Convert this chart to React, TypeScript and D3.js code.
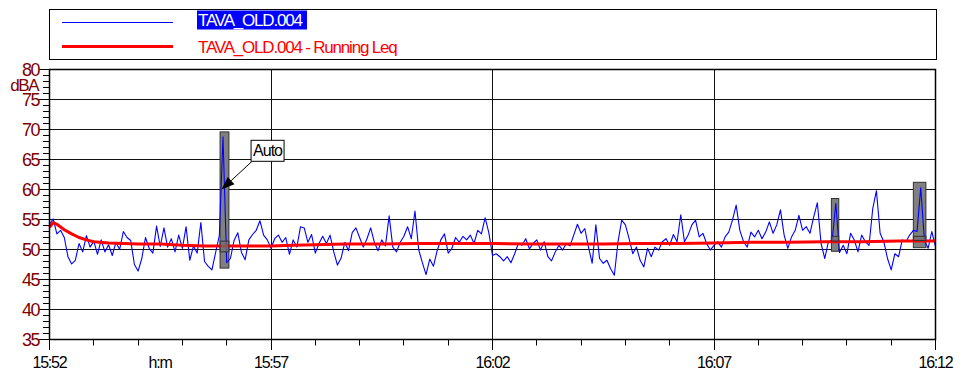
import React from "react";
import * as d3 from "d3";

// sound level samples, one every 5 s from 15:52:00
const SAMPLE_STEP = 5;
const levelValues = [
  54.2, 55.1, 52.6, 53.2, 52.0, 48.8, 47.6, 48.2, 51.0, 49.6,
  52.3, 50.4, 51.4, 49.2, 51.6, 49.6, 50.8, 49.0, 51.2, 50.0,
  53.0, 52.0, 51.5, 47.5, 46.4, 48.5, 52.0, 50.2, 49.4, 53.9,
  50.5, 53.6, 50.4, 51.8, 49.6, 52.4, 50.2, 53.8, 48.2, 50.6,
  49.4, 54.5, 48.0, 47.2, 46.6, 49.5, 52.3, 68.8, 47.8, 48.5,
  51.5, 52.8, 49.5, 48.3, 51.6, 52.5, 53.2, 54.8, 52.4, 51.6,
  50.2, 51.8, 52.4, 51.2, 52.0, 49.2, 51.6, 50.4, 53.8, 53.6,
  51.2, 52.5, 49.4, 51.0, 52.2, 51.0, 52.4, 49.6, 47.4, 48.6,
  51.2, 49.8, 52.8, 53.6, 52.0, 50.4, 51.8, 53.6, 51.2, 49.8,
  51.6, 50.6, 55.6, 50.4, 49.6, 51.2, 52.2, 53.8, 51.8, 56.4,
  50.0, 47.8, 45.8, 48.4, 47.2, 49.8, 51.6, 52.6, 49.4, 50.2,
  52.0, 51.2, 52.2, 51.6, 52.4, 51.0, 53.2, 52.6, 55.3, 52.8,
  49.0, 49.3, 48.8, 48.1, 48.8, 47.8, 49.3, 51.0, 50.7, 51.8,
  50.1, 51.0, 51.6, 49.9, 51.3, 48.8, 48.1, 49.6, 50.7, 49.9,
  51.0, 50.6, 52.4, 54.2, 52.7, 53.5, 50.4, 47.7, 54.1, 48.5,
  47.7, 48.2, 46.8, 45.7, 51.3, 54.9, 54.1, 51.8, 49.3, 50.4,
  48.2, 47.1, 50.2, 48.8, 50.4, 49.9, 51.3, 51.8, 50.7, 52.5,
  51.3, 55.8, 51.3, 52.4, 54.1, 54.9, 52.1, 52.7, 51.0, 49.9,
  50.7, 51.3, 50.4, 52.1, 52.9, 54.9, 57.4, 53.2, 51.3, 50.4,
  52.9, 52.1, 53.2, 51.8, 52.9, 54.6, 52.7, 54.1, 56.6, 52.4,
  50.2, 52.1, 53.2, 55.7, 53.2, 53.8, 52.7, 55.4, 57.8, 51.0,
  48.5, 51.3, 51.5, 57.7, 49.5, 50.7, 49.3, 52.7, 51.6, 49.6,
  52.4, 51.3, 50.7, 56.8, 59.8, 52.7, 51.3, 48.5, 46.6, 49.3,
  48.8, 51.6, 51.3, 52.4, 53.2, 53.0, 60.3, 51.5, 50.2, 53.0,
  50.5,
];

// running Leq (seconds from start, dBA)
const leqSeconds = [0, 5, 10, 20, 30, 40, 50, 60, 80, 100, 120, 150, 180, 210, 240, 270, 300, 330, 360, 400, 450, 500, 550, 600, 650, 700, 750, 800, 850, 900, 950, 1000, 1050, 1100, 1150, 1200];
const leqValues = [53.7, 54.5, 54.2, 53.3, 52.6, 52.0, 51.6, 51.3, 51.1, 51.0, 50.9, 50.9, 50.7, 50.6, 50.6, 50.6, 50.6, 50.7, 50.8, 50.9, 50.9, 51.0, 51.0, 51.0, 50.9, 50.9, 50.9, 51.0, 51.0, 51.1, 51.2, 51.2, 51.3, 51.3, 51.4, 51.4];

// marked events: start s, end s, top dB, bottom dB, inner top, inner bottom
const markStart = [231, 1059, 1170];
const markEnd = [243, 1069, 1187];
const markTop = [69.6, 58.5, 61.2];
const markBottom = [46.9, 49.7, 50.3];
const markInnerTop = [51.4, 52.2, 52.2];
const markInnerBottom = [49.6, 51.4, 51.5];

const yTicks = [35, 40, 45, 50, 55, 60, 65, 70, 75, 80];
const xMajorMinutes = [0, 5, 10, 15, 20];
const legendNames = ["TAVA_OLD.004", "TAVA_OLD.004 - Running Leq"];

const FONT = "'Liberation Sans', Arial, sans-serif";

export default function App() {
  const t0 = new Date(2000, 0, 1, 15, 52, 0);
  const t1 = new Date(2000, 0, 1, 16, 12, 0);
  const at = (s: number) => new Date(t0.getTime() + s * 1000);

  const x = d3.scaleTime().domain([t0, t1]).range([49.5, 935.5]);
  const y = d3.scaleLinear().domain([35, 80]).range([339.5, 69.5]);
  const fmt = d3.timeFormat("%H:%M");

  const majorX = xMajorMinutes.map(m => d3.timeMinute.offset(t0, m));
  const minorX = d3.range(0, 21).map(m => d3.timeMinute.offset(t0, m));
  const minorY = d3.range(35, 81, 1);

  const line = d3.line<[number, number]>()
    .x(d => x(at(d[0])))
    .y(d => y(d[1]));

  const levelPath = line(levelValues.map((v, i) => [i * SAMPLE_STEP, v]));
  const leqPath = line(leqValues.map((v, i) => [leqSeconds[i], v]));

  const px = (v: number) => Math.round(v - 0.5) + 0.5;

  // annotation "Auto"
  const tip: [number, number] = [x(at(233)), y(60)];
  const boxX = x(at(273)), boxY = y(68.2);
  const tail: [number, number] = [boxX + 1, boxY + 21];
  const ang = Math.atan2(tip[1] - tail[1], tip[0] - tail[0]);
  const ah = 13, aw = 5;
  const base = [tip[0] - ah * Math.cos(ang), tip[1] - ah * Math.sin(ang)];
  const head = [
    tip,
    [base[0] + aw * Math.sin(ang), base[1] - aw * Math.cos(ang)],
    [base[0] - aw * Math.sin(ang), base[1] + aw * Math.cos(ang)],
  ];

  return (
    <svg width={960} height={376} style={{ position: "absolute", left: 0, top: 0, background: "#fff" }} fontFamily={FONT}>
      {/* legend */}
      <rect x={49.5} y={9.5} width={887} height={50} fill="#fff" stroke="#000" />
      <line x1={62} x2={173} y1={22.5} y2={22.5} stroke="#0000ff" strokeWidth={1} />
      <rect x={197} y={10.5} width={110} height={19} fill="#0000ff" />
      <text x={198} y={26} fontSize={17} letterSpacing={-1.2} fill="#fff">{legendNames[0]}</text>
      <line x1={62} x2={173} y1={46.5} y2={46.5} stroke="#ff0000" strokeWidth={3} />
      <text x={198} y={52.5} fontSize={17} letterSpacing={-1.2} fill="#ff0000">{legendNames[1]}</text>

      {/* grid */}
      {yTicks.slice(1, -1).map(v => (
        <line key={"gy" + v} x1={49.5} x2={935.5} y1={y(v)} y2={y(v)} stroke="#111" strokeWidth={1} shapeRendering="crispEdges" />
      ))}
      {majorX.slice(1, -1).map(d => (
        <line key={"gx" + d.getTime()} x1={px(x(d))} x2={px(x(d))} y1={69.5} y2={339.5} stroke="#111" strokeWidth={1} shapeRendering="crispEdges" />
      ))}

      {/* marked events */}
      {markStart.map((s, i) => (
        <rect key={"m" + i} x={x(at(s))} y={y(markTop[i])} width={x(at(markEnd[i])) - x(at(s))} height={y(markBottom[i]) - y(markTop[i])}
          fill="#808080" stroke="#333" strokeWidth={1} />
      ))}

      <path d={levelPath || ""} fill="none" stroke="#0000ff" strokeWidth={1.1} strokeLinejoin="round" />
      <path d={leqPath || ""} fill="none" stroke="#ff0000" strokeWidth={3} strokeLinejoin="round" />

      {markStart.map((s, i) => (
        <rect key={"mi" + i} x={x(at(s))} y={y(markInnerTop[i])} width={x(at(markEnd[i])) - x(at(s))}
          height={y(markInnerBottom[i]) - y(markInnerTop[i])} fill="#707070" fillOpacity={0.7} stroke="#333" strokeWidth={1} />
      ))}

      {/* annotation */}
      <line x1={tail[0]} y1={tail[1]} x2={base[0]} y2={base[1]} stroke="#000" strokeWidth={1} />
      <polygon points={head.map(p => p.join(",")).join(" ")} fill="#000" />
      <rect x={boxX} y={boxY} width={33} height={21} fill="#fff" stroke="#000" />
      <text x={boxX + 16.5} y={boxY + 16} fontSize={16} letterSpacing={-1} textAnchor="middle" fill="#000">Auto</text>

      {/* frame */}
      <rect x={49.5} y={69.5} width={886} height={270} fill="none" stroke="#000" strokeWidth={1.5} />

      {/* y axis */}
      {minorY.map(v => (
        <line key={"ty" + v} x1={v % 5 === 0 ? 39 : 43} x2={49.5} y1={y(v)} y2={y(v)} stroke="#000" strokeWidth={1} />
      ))}
      {yTicks.map(v => (
        <text key={"ly" + v} x={39} y={y(v) + 6} fontSize={18} letterSpacing={-1.5} textAnchor="end" fill="#800000">{v}</text>
      ))}
      <text x={38} y={91} fontSize={17} letterSpacing={-1.5} textAnchor="end" fill="#800000">dBA</text>

      {/* x axis */}
      {minorX.map((d, i) => (
        <line key={"tx" + d.getTime()} x1={px(x(d))} x2={px(x(d))} y1={339.5} y2={i % 5 === 0 ? 350 : 345.5} stroke="#000" strokeWidth={1} />
      ))}
      {majorX.map(d => (
        <text key={"lx" + d.getTime()} x={x(d)} y={368} fontSize={16} letterSpacing={-1.2} textAnchor="middle" fill="#000">{fmt(d)}</text>
      ))}
      <text x={160} y={368} fontSize={16} letterSpacing={-1.2} textAnchor="middle" fill="#000">h:m</text>
    </svg>
  );
}
